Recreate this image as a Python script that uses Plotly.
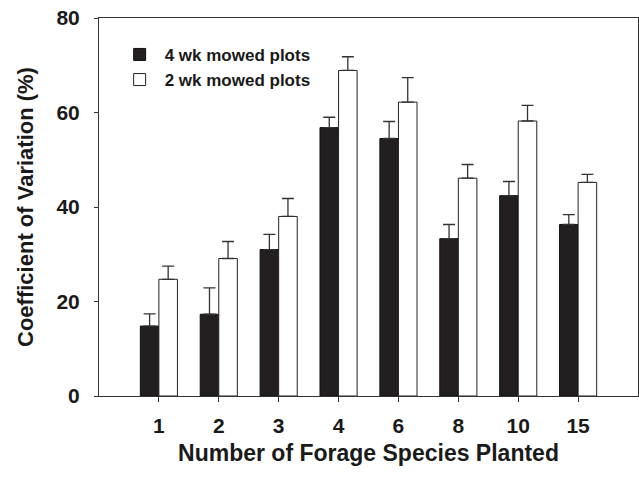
import plotly.graph_objects as go

categories = ["1", "2", "3", "4", "6", "8", "10", "15"]
mow4_values = [14.8, 17.3, 31.0, 56.8, 54.5, 33.3, 42.4, 36.3]
mow4_errors = [2.6, 5.6, 3.2, 2.2, 3.6, 3.0, 3.0, 2.1]
mow2_values = [24.7, 29.1, 38.0, 68.9, 62.2, 46.1, 58.2, 45.2]
mow2_errors = [2.8, 3.6, 3.8, 2.9, 5.2, 2.9, 3.3, 1.7]
y_ticks = [0, 20, 40, 60, 80]

FONT = "Liberation Sans, Arial, sans-serif"
TXT = "#1a1a1a"

fig = go.Figure()
fig.add_trace(go.Bar(
    name="4 wk mowed plots", x=categories, y=mow4_values,
    marker=dict(color="#231f20", line=dict(color="#111111", width=1)),
    error_y=dict(type="data", array=mow4_errors, symmetric=False,
                 arrayminus=[0]*len(mow4_errors), color="#333333",
                 thickness=1.3, width=6),
))
fig.add_trace(go.Bar(
    name="2 wk mowed plots", x=categories, y=mow2_values,
    marker=dict(color="white", line=dict(color="#222222", width=1)),
    error_y=dict(type="data", array=mow2_errors, symmetric=False,
                 arrayminus=[0]*len(mow2_errors), color="#333333",
                 thickness=1.3, width=6),
))

fig.update_layout(
    width=639, height=477,
    margin=dict(l=99, r=1, t=18, b=81, autoexpand=False),
    paper_bgcolor="white", plot_bgcolor="white",
    barmode="group", bargap=0.38, bargroupgap=0,
    font=dict(family=FONT, color=TXT),
    legend=dict(x=0.029, y=0.95, xanchor="left", yanchor="top",
                font=dict(family=FONT, size=17, weight="bold", color=TXT),
                bgcolor="rgba(0,0,0,0)", tracegroupgap=0, itemwidth=40),
    xaxis=dict(
        type="category", range=[-1, 8], automargin=False,
        showline=True, linecolor="#333333", linewidth=1, mirror=True,
        ticks="outside", ticklen=5, tickcolor="#333333",
        tickfont=dict(family=FONT, size=21, weight="bold", color=TXT),
        ticklabelstandoff=6,
        title=dict(text="Number of Forage Species Planted",
                   font=dict(family=FONT, size=23, weight="bold", color=TXT),
                   standoff=8),
        showgrid=False,
    ),
    yaxis=dict(
        range=[0, 80], tickvals=y_ticks, automargin=False,
        showline=True, linecolor="#333333", linewidth=1, mirror=True,
        ticks="outside", ticklen=4, tickcolor="#333333",
        tickfont=dict(family=FONT, size=21, weight="bold", color=TXT),
        ticklabelstandoff=10,
        title=dict(text="Coefficient of Variation (%)",
                   font=dict(family=FONT, size=22, weight="bold", color=TXT),
                   standoff=16),
        showgrid=False, zeroline=False,
    ),
)

fig.write_html("out.html", config={"displayModeBar": False},
               post_script="document.body.style.margin='0';document.body.style.padding='0';")
